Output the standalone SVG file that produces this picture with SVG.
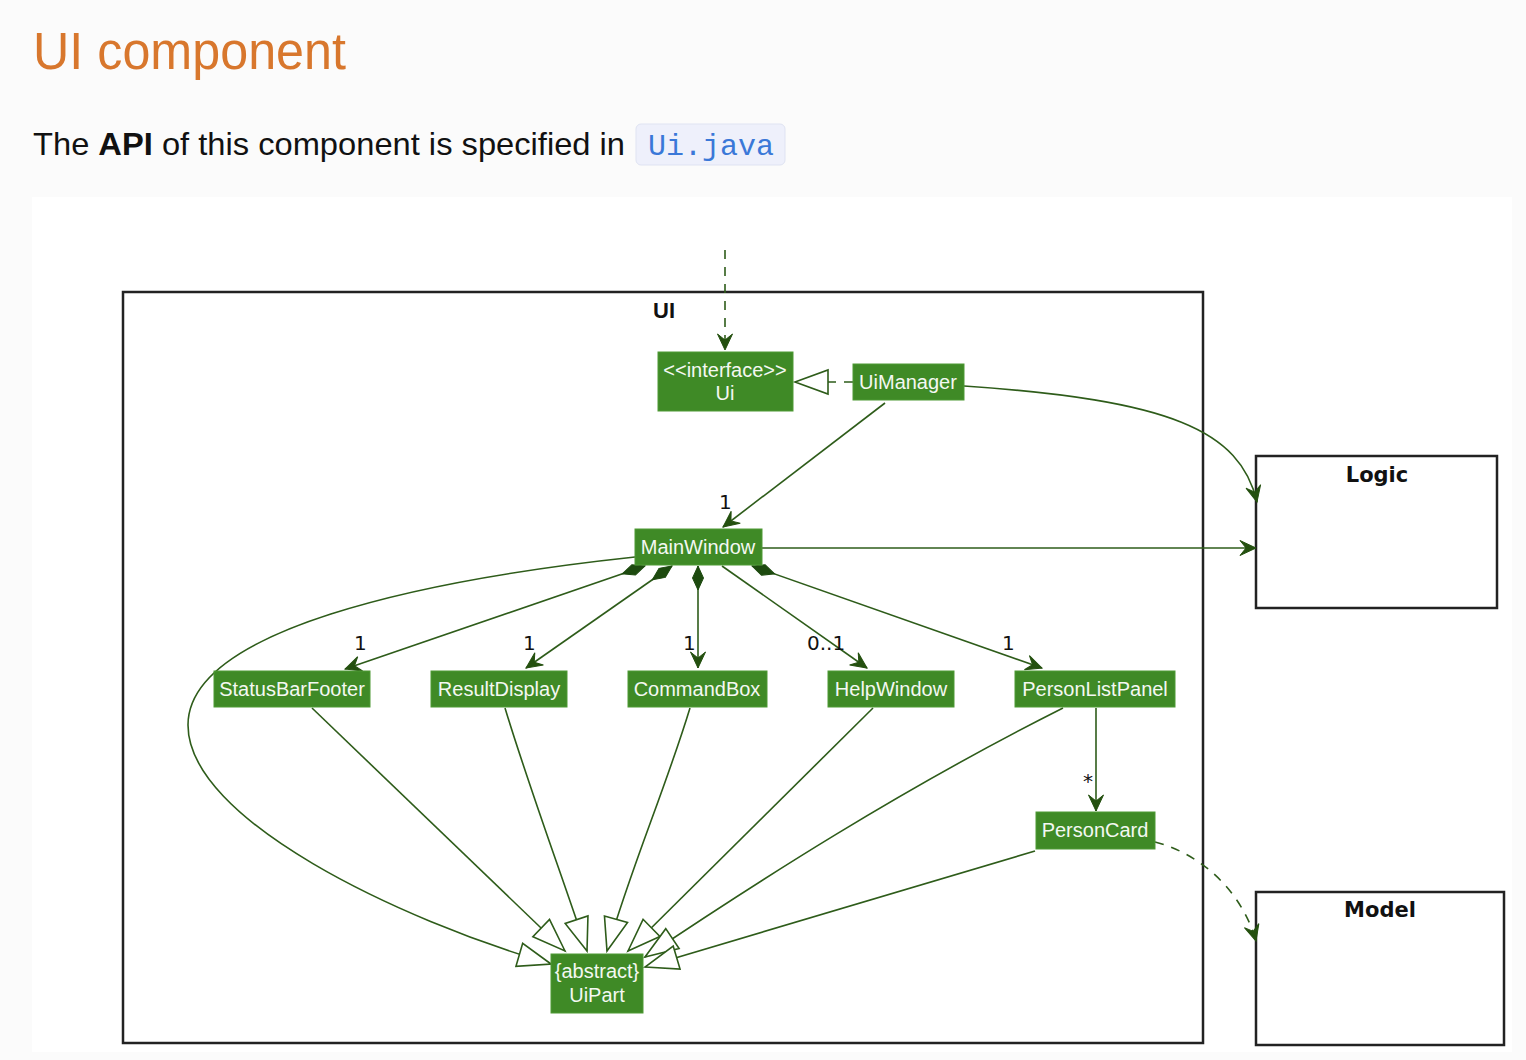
<svg xmlns="http://www.w3.org/2000/svg" width="1526" height="1060" viewBox="0 0 1526 1060">
  <style>
    .page { fill: #fbfbfb; }
    .cls rect { fill: #3f8a26; stroke: #4f9a35; stroke-width: 1; }
    .cls text { font-family: "Liberation Sans", Arial, sans-serif; font-size: 20px; fill: #f4f8f2; text-anchor: middle; }
    .pkg { fill: none; stroke: #222; stroke-width: 2.5; }
    .pkgbox { fill: #fff; stroke: #222; stroke-width: 2.5; }
    .pkgname { font-family: "DejaVu Sans", Verdana, sans-serif; font-weight: bold; font-size: 21px; fill: #111; text-anchor: middle; }
    .edge { fill: none; stroke: #2e5c1a; stroke-width: 1.6; }
    .dash { stroke-dasharray: 9 8; }
    .mult { font-family: "DejaVu Sans", Verdana, sans-serif; font-size: 20px; fill: #111; }
  </style>
  <defs>
    <!-- navigable association head -->
    <marker id="vee" markerUnits="userSpaceOnUse" markerWidth="18" markerHeight="18" refX="16" refY="8" orient="auto" overflow="visible">
      <path d="M16,8 L0,0.5 L6,8 L0,15.5 Z" fill="#24500f" stroke="#24500f" stroke-width="1"/>
    </marker>
    <!-- generalization / realization head -->
    <marker id="gen" markerUnits="userSpaceOnUse" markerWidth="36" markerHeight="28" refX="33" refY="12" orient="auto" overflow="visible">
      <path d="M33,12 L0,0 L0,24 Z" fill="#fff" stroke="#2e5c1a" stroke-width="1.6"/>
    </marker>
    <!-- composition diamond -->
    <marker id="comp" markerUnits="userSpaceOnUse" markerWidth="26" markerHeight="14" refX="0" refY="6" orient="auto" overflow="visible">
      <path d="M0,6 L12,0.5 L24,6 L12,11.5 Z" fill="#1d4a0f" stroke="#1d4a0f" stroke-width="1"/>
    </marker>
  </defs>

  <!-- page -->
  <rect class="page" x="0" y="0" width="1526" height="1060"/>
  <text x="33" y="69" font-family="Liberation Sans, Arial, sans-serif" font-size="51" fill="#d8772d" textLength="313" lengthAdjust="spacingAndGlyphs">UI component</text>
  <text x="33" y="155" font-family="Liberation Sans, Arial, sans-serif" font-size="32" fill="#111" textLength="592" lengthAdjust="spacingAndGlyphs">The <tspan font-weight="bold">API</tspan> of this component is specified in</text>
  <rect x="636" y="124" width="149" height="41" rx="5" fill="#eef0fb" stroke="#dfe3f2" stroke-width="1"/>
  <text x="648" y="155" font-family="Liberation Mono, Courier New, monospace" font-size="30" fill="#3a78d8">Ui.java</text>

  <!-- diagram canvas -->
  <rect x="32" y="197" width="1480" height="855" fill="#fff"/>

  <!-- packages -->
  <g id="pkg-ui">
    <rect class="pkg" x="123" y="292" width="1080" height="751"/>
    <text x="664" y="318" font-family="Liberation Sans, Arial, sans-serif" font-weight="bold" font-size="22" fill="#111" text-anchor="middle">UI</text>
  </g>
  <g id="pkg-logic">
    <rect class="pkgbox" x="1256" y="456" width="241" height="152"/>
    <text class="pkgname" x="1377" y="482">Logic</text>
  </g>
  <g id="pkg-model">
    <rect class="pkgbox" x="1256" y="892" width="248" height="153"/>
    <text class="pkgname" x="1380" y="917">Model</text>
  </g>

  <!-- connectors -->
  <g id="connectors">
    <!-- external use of Ui -->
    <path class="edge dash" d="M725,250 L725,350" marker-end="url(#vee)"/>
    <!-- UiManager realizes Ui -->
    <path class="edge dash" d="M853,382 L795,382" marker-end="url(#gen)"/>
    <!-- UiManager -> MainWindow -->
    <path class="edge" d="M885,403 L723,527" marker-end="url(#vee)"/>
    <!-- UiManager -> Logic -->
    <path class="edge" d="M964,386 C1170,400 1240,430 1257,502" marker-end="url(#vee)"/>
    <!-- MainWindow -> Logic -->
    <path class="edge" d="M762,548 L1256,548" marker-end="url(#vee)"/>

    <!-- MainWindow compositions -->
    <path class="edge" d="M645,566 L345,669" marker-start="url(#comp)" marker-end="url(#vee)"/>
    <path class="edge" d="M672,566 L526,668" marker-start="url(#comp)" marker-end="url(#vee)"/>
    <path class="edge" d="M698,566 L698,668" marker-start="url(#comp)" marker-end="url(#vee)"/>
    <path class="edge" d="M722,566 L867,668" marker-end="url(#vee)"/>
    <path class="edge" d="M752,566 L1042,668" marker-start="url(#comp)" marker-end="url(#vee)"/>

    <!-- PersonListPanel -> PersonCard -->
    <path class="edge" d="M1096,708 L1096,811" marker-end="url(#vee)"/>
    <!-- PersonCard uses Model -->
    <path class="edge dash" d="M1155,842 C1205,855 1243,895 1256,941" marker-end="url(#vee)"/>

    <!-- generalizations to UiPart -->
    <path class="edge" d="M635,557 C420,580 188,630 188,725 C188,820 400,920 551,964" marker-end="url(#gen)"/>
    <path class="edge" d="M312,708 L565,951" marker-end="url(#gen)"/>
    <path class="edge" d="M505,708 C530,790 560,870 587,951" marker-end="url(#gen)"/>
    <path class="edge" d="M690,708 C665,790 630,870 607,951" marker-end="url(#gen)"/>
    <path class="edge" d="M873,708 C780,800 700,880 628,951" marker-end="url(#gen)"/>
    <path class="edge" d="M1063,708 C900,790 760,880 645,957" marker-end="url(#gen)"/>
    <path class="edge" d="M1035,851 L645,967" marker-end="url(#gen)"/>

    <!-- multiplicities -->
    <text class="mult" x="719" y="509">1</text>
    <text class="mult" x="354" y="650">1</text>
    <text class="mult" x="523" y="650">1</text>
    <text class="mult" x="683" y="650">1</text>
    <text class="mult" x="807" y="650">0..1</text>
    <text class="mult" x="1002" y="650">1</text>
    <text class="mult" x="1083" y="788" font-size="16">*</text>
  </g>

  <!-- classes -->
  <g id="ui" class="cls">
    <rect x="658" y="352" width="135" height="59"/>
    <text x="725" y="377">&lt;&lt;interface&gt;&gt;</text>
    <text x="725" y="400">Ui</text>
  </g>
  <g id="ui-manager" class="cls">
    <rect x="853" y="364" width="111" height="36"/>
    <text x="908" y="389">UiManager</text>
  </g>
  <g id="main-window" class="cls">
    <rect x="635" y="529" width="127" height="36"/>
    <text x="698" y="554">MainWindow</text>
  </g>
  <g id="status-bar-footer" class="cls">
    <rect x="214" y="671" width="156" height="36"/>
    <text x="292" y="696">StatusBarFooter</text>
  </g>
  <g id="result-display" class="cls">
    <rect x="431" y="671" width="136" height="36"/>
    <text x="499" y="696">ResultDisplay</text>
  </g>
  <g id="command-box" class="cls">
    <rect x="628" y="671" width="139" height="36"/>
    <text x="697" y="696">CommandBox</text>
  </g>
  <g id="help-window" class="cls">
    <rect x="828" y="671" width="126" height="36"/>
    <text x="891" y="696">HelpWindow</text>
  </g>
  <g id="person-list-panel" class="cls">
    <rect x="1015" y="671" width="160" height="36"/>
    <text x="1095" y="696">PersonListPanel</text>
  </g>
  <g id="person-card" class="cls">
    <rect x="1036" y="812" width="119" height="37"/>
    <text x="1095" y="837">PersonCard</text>
  </g>
  <g id="ui-part" class="cls">
    <rect x="551" y="954" width="92" height="59"/>
    <text x="597" y="978">{abstract}</text>
    <text x="597" y="1002">UiPart</text>
  </g>
</svg>
